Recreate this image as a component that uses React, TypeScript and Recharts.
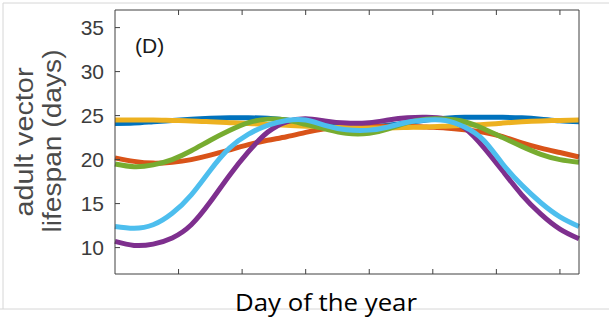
import { LineChart, Line, XAxis, YAxis } from "recharts";

// day of year at each sample
const days = [0, 15, 30, 45, 60, 75, 90, 105, 120, 135, 150, 165, 182, 200, 215, 230, 245, 260, 275, 290, 305, 320, 335, 350, 365];

// adult vector lifespan (days) per scenario
const blue = [24.1, 24.15, 24.3, 24.45, 24.6, 24.7, 24.75, 24.75, 24.7, 24.5, 24.2, 23.9, 23.7, 23.7, 23.9, 24.2, 24.5, 24.7, 24.8, 24.8, 24.8, 24.75, 24.6, 24.4, 24.3];
const orange = [20.2, 19.8, 19.6, 19.7, 20.0, 20.5, 21.1, 21.7, 22.2, 22.6, 23.1, 23.5, 23.7, 23.8, 23.8, 23.8, 23.7, 23.6, 23.4, 23.1, 22.6, 21.9, 21.3, 20.8, 20.3];
const yellow = [24.5, 24.5, 24.5, 24.45, 24.4, 24.3, 24.2, 24.1, 24.0, 23.9, 23.8, 23.7, 23.65, 23.6, 23.6, 23.65, 23.7, 23.8, 23.9, 24.0, 24.15, 24.3, 24.4, 24.45, 24.5];
const purple = [10.7, 10.25, 10.4, 11.1, 12.6, 15.2, 18.2, 20.9, 23.1, 24.3, 24.65, 24.4, 24.15, 24.2, 24.5, 24.75, 24.8, 24.6, 23.6, 21.4, 18.7, 16.0, 13.8, 12.1, 11.0];
const green = [19.5, 19.2, 19.4, 20.0, 21.0, 22.2, 23.3, 24.2, 24.6, 24.5, 24.0, 23.5, 23.0, 23.0, 23.5, 24.2, 24.6, 24.6, 24.3, 23.5, 22.5, 21.5, 20.6, 20.0, 19.7];
const lightBlue = [12.4, 12.2, 12.6, 13.9, 16.0, 18.8, 21.3, 22.9, 23.9, 24.45, 24.5, 23.9, 23.4, 23.35, 23.7, 24.25, 24.5, 24.45, 23.7, 22.2, 19.5, 17.1, 15.1, 13.5, 12.4];

const xTicks = [50, 100, 150, 200, 250, 300, 350];
const yTicks = [10, 15, 20, 25, 30, 35];

const data = days.map((d, i) => ({
  day: d,
  blue: blue[i],
  orange: orange[i],
  yellow: yellow[i],
  purple: purple[i],
  green: green[i],
  lightBlue: lightBlue[i],
}));

const series: [string, string][] = [
  ["blue", "#0072BD"],
  ["orange", "#D95319"],
  ["yellow", "#EDB120"],
  ["purple", "#7E2F8E"],
  ["green", "#77AC30"],
  ["lightBlue", "#4DBEEE"],
];

const AXIS = "#404040";
const TICK_LEN = 5;

const LeftTick = (props: any) => {
  const { x, y, payload } = props;
  return (
    <g>
      <line x1={x} x2={x + TICK_LEN} y1={y} y2={y} stroke={AXIS} />
      <text
        x={x - 11}
        y={y}
        textAnchor="end"
        dominantBaseline="central"
        fontFamily="'Liberation Sans', Arial, sans-serif"
        fontSize={21}
        fill="#3c3c3c"
      >
        {payload.value}
      </text>
    </g>
  );
};

const RightTick = (props: any) => {
  const { x, y } = props;
  return <line x1={x} x2={x - TICK_LEN} y1={y} y2={y} stroke={AXIS} />;
};

const BottomTick = (props: any) => {
  const { x, y } = props;
  return <line x1={x} x2={x} y1={y} y2={y - TICK_LEN} stroke={AXIS} />;
};

const TopTick = (props: any) => {
  const { x, y } = props;
  return <line x1={x} x2={x} y1={y} y2={y + TICK_LEN} stroke={AXIS} />;
};

export default function App() {
  return (
    <div style={{ position: "absolute", left: 0, top: 0, width: 609, height: 321, background: "#fff" }}>
      <svg width={609} height={321} style={{ position: "absolute", left: 0, top: 0 }}>
        <line x1={3} x2={609} y1={3} y2={3} stroke="#d6d6d6" />
        <line x1={3} x2={3} y1={3} y2={309} stroke="#d6d6d6" />
        <line x1={0} x2={609} y1={309} y2={309} stroke="#d6d6d6" />
      </svg>
      <div style={{ position: "absolute", left: 0, top: 0 }}>
        <LineChart width={609} height={321} data={data} margin={{ top: 9, right: 29, bottom: 0, left: 0 }}>
          <XAxis
            xAxisId="bottom"
            dataKey="day"
            type="number"
            domain={[0, 365]}
            ticks={xTicks}
            height={47}
            stroke={AXIS}
            tickLine={false}
            tickSize={0}
            tickMargin={0}
            tick={<BottomTick />}
          />
          <XAxis
            xAxisId="top"
            orientation="top"
            dataKey="day"
            type="number"
            domain={[0, 365]}
            ticks={xTicks}
            height={1}
            stroke={AXIS}
            tickLine={false}
            tickSize={0}
            tickMargin={0}
            tick={<TopTick />}
          />
          <YAxis
            yAxisId="left"
            type="number"
            domain={[7, 37]}
            ticks={yTicks}
            width={115}
            stroke={AXIS}
            tickLine={false}
            tickSize={0}
            tickMargin={0}
            tick={<LeftTick />}
          />
          <YAxis
            yAxisId="right"
            orientation="right"
            type="number"
            domain={[7, 37]}
            ticks={yTicks}
            width={1}
            stroke={AXIS}
            tickLine={false}
            tickSize={0}
            tickMargin={0}
            tick={<RightTick />}
          />
          {series.map(([key, color]) => (
            <Line
              key={key}
              xAxisId="bottom"
              yAxisId="left"
              type="natural"
              dataKey={key}
              stroke={color}
              strokeWidth={5}
              dot={false}
              isAnimationActive={false}
            />
          ))}
        </LineChart>
      </div>
      <svg width={609} height={321} style={{ position: "absolute", left: 0, top: 0, pointerEvents: "none" }}>
        <text x={135} y={53} fontFamily="'Liberation Sans', Arial, sans-serif" fontSize={21} fill="#1a1a1a">
          (D)
        </text>
        <g fontFamily="'Liberation Sans', Arial, sans-serif" fontSize={26} fill="#4a4a4a" textAnchor="middle">
          <text transform="translate(33,142) rotate(-90)" textLength={149} lengthAdjust="spacingAndGlyphs">
            adult vector
          </text>
          <text transform="translate(61,141) rotate(-90)" textLength={183} lengthAdjust="spacingAndGlyphs">
            lifespan (days)
          </text>
        </g>
        <text
          x={326}
          y={311}
          textAnchor="middle"
          fontFamily="'Open Sans', 'Noto Sans', sans-serif"
          fontSize={24}
          fill="#000"
          textLength={182}
          lengthAdjust="spacingAndGlyphs"
        >
          Day of the year
        </text>
      </svg>
    </div>
  );
}
